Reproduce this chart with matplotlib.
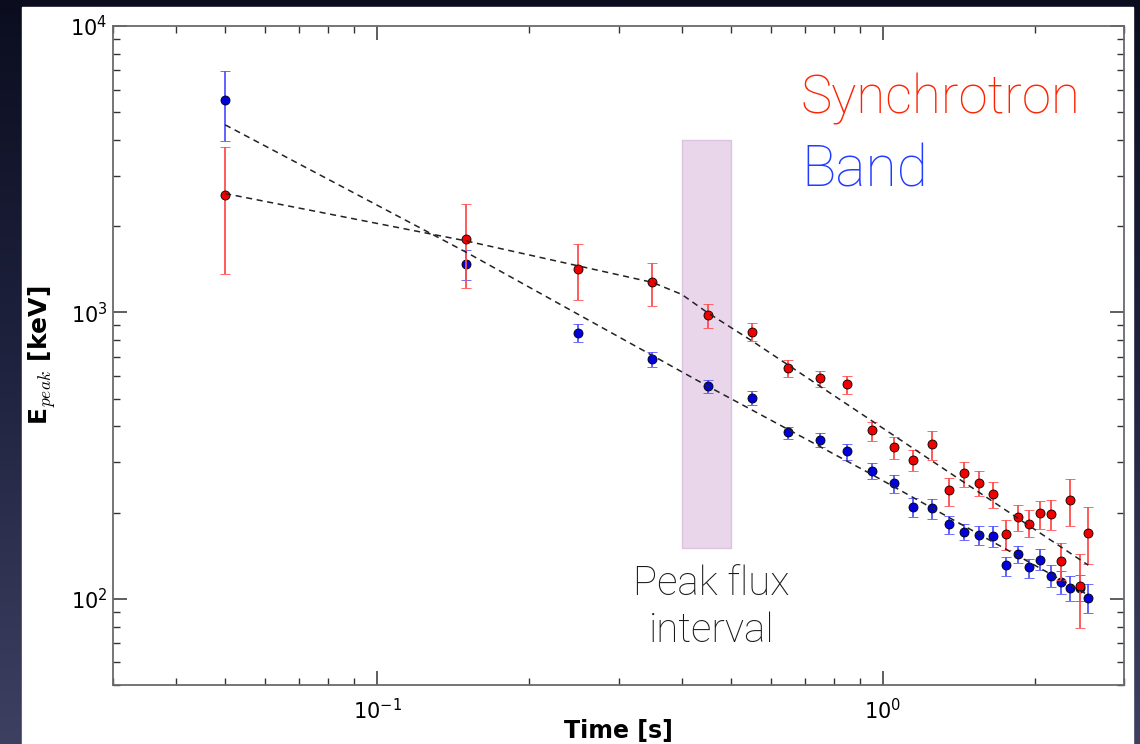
import numpy as np
import matplotlib
matplotlib.use('Agg')
import matplotlib.pyplot as plt
from matplotlib.colors import LinearSegmentedColormap
from matplotlib.patches import Rectangle

plt.rcParams['mathtext.fontset'] = 'cm'

# time bins [s]
times = [0.05, 0.15, 0.25, 0.35, 0.45, 0.55, 0.65, 0.75, 0.85, 0.95, 1.05, 1.15, 1.25,
         1.35, 1.45, 1.55, 1.65, 1.75, 1.85, 1.95, 2.05, 2.15, 2.25, 2.35, 2.45, 2.55]

# synchrotron Epeak [keV] with lower / upper error limits
sync_epeak = [2565, 1810, 1422, 1273, 976, 856, 641, 589, 562, 387, 338, 304, 346,
              239, 274, 254, 232, 169, 193, 183, 199, 198, 136, 221, 111, 170]
sync_lo = [1358, 1213, 1108, 1049, 879, 796, 596, 550, 520, 357, 308, 279, 306,
           211, 246, 228, 208, 148, 173, 164, 175, 174, 116, 180, 79, 132]
sync_hi = [3775, 2399, 1739, 1487, 1072, 920, 681, 626, 602, 415, 368, 330, 385,
           265, 300, 280, 256, 189, 212, 204, 220, 221, 156, 262, 143, 209]

# Band Epeak [keV]
band_epeak = [5512, 1472, 849, 689, 554, 503, 381, 359, 329, 280, 254, 209, 208,
              183, 171, 167, 166, 131, 143, 129, 137, 120, 114, 109, 109, 101]
band_lo = [3962, 1297, 790, 647, 524, 476, 361, 339, 306, 262, 235, 193, 190,
           168, 161, 154, 152, 120, 133, 118, 126, 110, 104, 98, 98, 89]
band_hi = [6962, 1651, 908, 725, 583, 531, 399, 378, 346, 299, 271, 224, 223,
           194, 182, 180, 179, 140, 153, 138, 149, 131, 125, 120, 121, 113]

# fitted (broken) power laws
sync_fit_t = [0.05, 0.15, 0.35, 0.40, 0.45, 0.55, 2.55]
sync_fit = [2600, 1776, 1273, 1156, 998, 797, 131]
band_fit_t = [0.05, 0.15, 0.45, 0.95, 2.55]
band_fit = [4517, 1621, 553, 272, 103]

# peak flux interval
peak_t = [0.4, 0.5]
peak_e = [150, 4000]

fig = plt.figure(figsize=(11.4, 7.44), dpi=100)

# dark slide background with a white card
bg = fig.add_axes([0, 0, 1, 1], zorder=-10)
cmap = LinearSegmentedColormap.from_list('bg', ['#0b0d1f', '#20233f', '#3d4061'])
grad = np.linspace(0, 1, 256).reshape(-1, 1)
bg.imshow(grad, extent=[0, 1, 0, 1], aspect='auto', cmap=cmap, origin='upper')
bg.add_patch(Rectangle((22 / 1140, 0), (1133 - 22) / 1140, (744 - 7) / 744,
                       color='white', zorder=2))
bg.set_xlim(0, 1)
bg.set_ylim(0, 1)
bg.axis('off')

ax = fig.add_axes([113 / 1140, 59 / 744, 1011 / 1140, 659 / 744])
ax.set_facecolor('white')

ax.fill_between(peak_t, peak_e[0], peak_e[1], color='#e9d6ea', ec='#dcc4e0', lw=1, zorder=1)

t = np.array(times)
b = np.array(band_epeak)
s = np.array(sync_epeak)
ax.errorbar(t, b, yerr=[b - np.array(band_lo), np.array(band_hi) - b], fmt='o',
            ms=6.5, mfc='#0000dd', mec='black', mew=0.6, ecolor='#5555ff', elinewidth=1.3,
            capsize=3.5, capthick=1.1, zorder=2)
ax.errorbar(t, s, yerr=[s - np.array(sync_lo), np.array(sync_hi) - s], fmt='o',
            ms=6.5, mfc='#ee0000', mec='black', mew=0.6, ecolor='#ff4d4d', elinewidth=1.3,
            capsize=3.5, capthick=1.1, zorder=3)

ax.plot(sync_fit_t, sync_fit, color='#222222', ls=(0, (4, 3)), lw=1.1, zorder=4)
ax.plot(band_fit_t, band_fit, color='#222222', ls=(0, (4, 3)), lw=1.1, zorder=4)

ax.set_xscale('log')
ax.set_yscale('log')
ax.set_xlim(0.03, 3.0)
ax.set_ylim(50, 1e4)

for sp in ax.spines.values():
    sp.set_color('#6a6a6a')
    sp.set_linewidth(1.3)
ax.tick_params(which='both', direction='in', top=True, right=True, colors='#333333',
               labelsize=15, labelcolor='black')
ax.tick_params(which='major', length=10, width=1.1)
ax.tick_params(which='minor', length=5, width=1.0)
ax.tick_params(axis='x', which='major', pad=9)
ax.tick_params(axis='y', which='major', pad=4)

ax.set_xlabel('Time [s]', fontsize=17, fontweight='bold')
ax.set_ylabel('E$_{peak}$ [keV]', fontsize=18, fontweight='bold')
ax.xaxis.set_label_coords(0.5, -0.052)
ax.yaxis.set_label_coords(-0.054, 0.5)

font = dict(family='Roboto', fontweight='light')
ax.text(0.680, 0.8675, 'Synchrotron', transform=ax.transAxes, fontsize=38,
        color='#ff2200', va='baseline', **font)
ax.text(0.681, 0.756, 'Band', transform=ax.transAxes, fontsize=41,
        color='#1f3cff', va='baseline', **font)
ax.text(0.592, 0.137, 'Peak flux', transform=ax.transAxes, fontsize=29,
        color='#1a1a1a', va='baseline', ha='center', **font)
ax.text(0.592, 0.066, 'interval', transform=ax.transAxes, fontsize=29,
        color='#1a1a1a', va='baseline', ha='center', **font)

fig.savefig('out.png', dpi=100)
